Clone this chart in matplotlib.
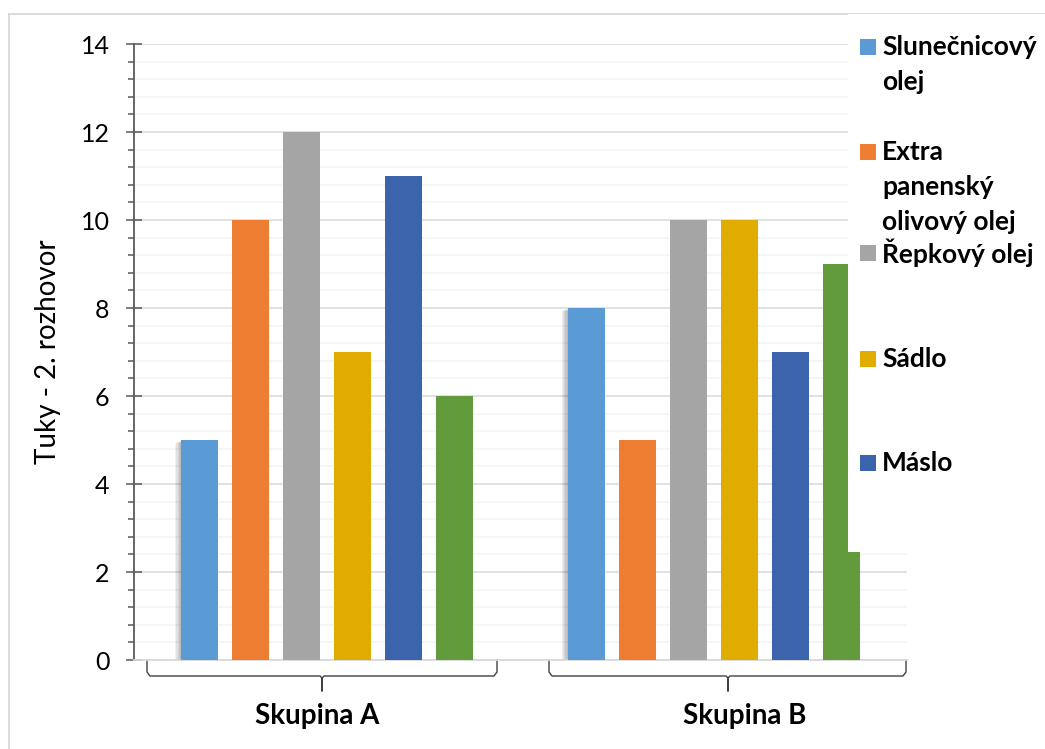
import matplotlib.pyplot as plt
from matplotlib.patches import Rectangle
from matplotlib.lines import Line2D
from matplotlib.ticker import MultipleLocator
import matplotlib.transforms as mtransforms
import numpy as np

# Data
groups = ["Skupina A", "Skupina B"]
series_a = [5, 10, 12, 7, 11, 6]
series_b = [8, 5, 10, 10, 7, 9]
colors = ["#5B9BD5", "#ED7D31", "#A5A5A5", "#E0AC00", "#3C64AD", "#629B3C"]
legend_lines = [["Slunečnicový", "olej"],
                ["Extra", "panenský", "olivový olej"],
                ["Řepkový olej"],
                ["Sádlo"],
                ["Máslo"]]
y_label = "Tuky - 2. rozhovor"

# Layout (pixels)
W, H = 1045, 749
ax_left, ax_right, ax_top, ax_bottom = 134, 907, 44, 660
FONT = "Lato"

def fx(px):
    return px / W

def fy(py):
    return 1 - py / H

fig = plt.figure(figsize=(W / 100, H / 100), dpi=100)
ax = fig.add_axes([fx(ax_left), fy(ax_bottom), fx(ax_right - ax_left), (ax_bottom - ax_top) / H])

values = np.array([series_a, series_b])
n_series = values.shape[1]
px_unit = 2.0 / (ax_right - ax_left)        # data units per pixel in x
bar_w = 37 * px_unit
pitch = 51 * px_unit
centers = np.array([0.5, 1.5])
offsets = (np.arange(n_series) - (n_series - 1) / 2) * pitch

# soft shadow behind first bar of each group
for k in range(5):
    ax.bar(centers + offsets[0] - (k + 1) * 1.2 * px_unit, values[:, 0],
           width=bar_w, bottom=-0.012 * (k + 1), color="black",
           alpha=0.06, zorder=2, linewidth=0)

for i in range(n_series):
    ax.bar(centers + offsets[i], values[:, i], width=bar_w, color=colors[i],
           zorder=3, linewidth=0)

ax.set_xlim(0, 2)
ax.set_ylim(0, 14)
ax.yaxis.set_major_locator(MultipleLocator(2))
ax.yaxis.set_minor_locator(MultipleLocator(0.4))
ax.grid(which="major", axis="y", color="#D9D9D9", linewidth=1.1, zorder=0)
ax.grid(which="minor", axis="y", color="#F2F2F2", linewidth=1.1, zorder=0)
ax.set_axisbelow(True)
ax.set_xticks([])
ax.tick_params(axis="y", which="major", direction="inout", length=11,
               width=1.1, color="#595959", labelsize=18, pad=12)
ax.tick_params(axis="y", which="minor", direction="out", length=4,
               width=1.1, color="#595959")
for lab in ax.get_yticklabels():
    lab.set_fontfamily(FONT)
for s in ["top", "right"]:
    ax.spines[s].set_visible(False)
ax.spines["left"].set_color("#595959")
ax.spines["left"].set_linewidth(1.3)
ax.spines["bottom"].set_color("#D9D9D9")
ax.spines["bottom"].set_linewidth(1.3)
ax.set_ylabel(y_label, fontsize=20, fontfamily=FONT, labelpad=14)

# category brackets
def xd(px):
    return (px - ax_left) * px_unit

trans = mtransforms.blended_transform_factory(ax.transData, ax.transAxes)
ppx = 1.0 / (ax_bottom - ax_top)
brackets = [(147, 497, 322, 317), (549, 906, 728, 745)]
for (x0, x1, xm, xt), name in zip(brackets, groups):
    r = 3
    xs = [xd(x0), xd(x0), xd(x0 + r), xd(xm - 2), xd(xm), xd(xm), xd(xm), xd(xm + 2), xd(x1 - r), xd(x1), xd(x1)]
    ys = [0, -12, -16, -16, -18, -31, -18, -16, -16, -12, 0]
    ax.add_line(Line2D(xs, [y * ppx for y in ys], transform=trans, color="#404040",
                       linewidth=1.0, clip_on=False))
    fig.text(fx(xt), fy(716), name, ha="center", va="center", fontsize=20,
             fontweight="bold", fontfamily=FONT)

# legend (white box over plot area)
fig.patches.append(Rectangle((fx(848), fy(552)), fx(W - 848), (552 - 14) / H,
                             transform=fig.transFigure, facecolor="white",
                             edgecolor="none", zorder=5))
entry_y = [47, 152, 253, 359, 463]
for lines, col, y0 in zip(legend_lines, colors, entry_y):
    fig.patches.append(Rectangle((fx(860), fy(y0 + 8)), fx(16), 16 / H,
                                 transform=fig.transFigure, facecolor=col,
                                 edgecolor="none", zorder=6))
    for j, line in enumerate(lines):
        fig.text(fx(882), fy(y0 + j * 35), line, ha="left", va="center",
                 fontsize=19, fontweight="bold", fontfamily=FONT, zorder=7)

# outer chart border
fig.add_artist(Line2D([fx(9), fx(W)], [fy(13.5), fy(13.5)], color="#D9D9D9",
                      linewidth=1.3, transform=fig.transFigure))
fig.add_artist(Line2D([fx(9), fx(9)], [fy(13.5), 0], color="#D9D9D9",
                      linewidth=1.3, transform=fig.transFigure))

fig.savefig("out.png", dpi=100)
